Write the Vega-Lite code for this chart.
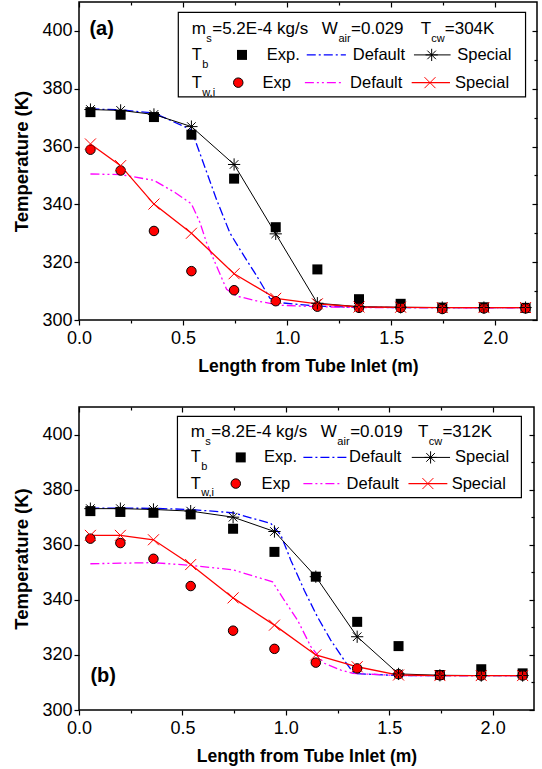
{
  "$schema": "https://vega.github.io/schema/vega-lite/v6.json",
  "padding": {"left": 12, "top": 0, "right": 2, "bottom": 2},
  "background": "white",
  "spacing": 29,
  "datasets": {
    "a": [
      {"s": "Tb_exp", "x": 0.055, "y": 371.9}, {"s": "Tb_exp", "x": 0.2, "y": 371.0}, {"s": "Tb_exp", "x": 0.36, "y": 370.2}, {"s": "Tb_exp", "x": 0.54, "y": 364.1}, {"s": "Tb_exp", "x": 0.745, "y": 348.9}, {"s": "Tb_exp", "x": 0.945, "y": 332.1}, {"s": "Tb_exp", "x": 1.145, "y": 317.5}, {"s": "Tb_exp", "x": 1.345, "y": 307.2}, {"s": "Tb_exp", "x": 1.545, "y": 305.6}, {"s": "Tb_exp", "x": 1.745, "y": 304.3}, {"s": "Tb_exp", "x": 1.945, "y": 304.4}, {"s": "Tb_exp", "x": 2.145, "y": 304.2},
      {"s": "Tb_sp", "x": 0.055, "y": 372.8}, {"s": "Tb_sp", "x": 0.2, "y": 372.5}, {"s": "Tb_sp", "x": 0.36, "y": 371.1}, {"s": "Tb_sp", "x": 0.54, "y": 366.9}, {"s": "Tb_sp", "x": 0.745, "y": 353.8}, {"s": "Tb_sp", "x": 0.945, "y": 329.8}, {"s": "Tb_sp", "x": 1.145, "y": 305.8}, {"s": "Tb_sp", "x": 1.345, "y": 304.6}, {"s": "Tb_sp", "x": 1.545, "y": 304.4}, {"s": "Tb_sp", "x": 1.745, "y": 304.3}, {"s": "Tb_sp", "x": 1.945, "y": 304.3}, {"s": "Tb_sp", "x": 2.145, "y": 304.3},
      {"s": "Tw_exp", "x": 0.055, "y": 358.9}, {"s": "Tw_exp", "x": 0.2, "y": 351.7}, {"s": "Tw_exp", "x": 0.36, "y": 330.8}, {"s": "Tw_exp", "x": 0.54, "y": 316.9}, {"s": "Tw_exp", "x": 0.745, "y": 310.3}, {"s": "Tw_exp", "x": 0.945, "y": 306.5}, {"s": "Tw_exp", "x": 1.145, "y": 304.6}, {"s": "Tw_exp", "x": 1.345, "y": 304.2}, {"s": "Tw_exp", "x": 1.545, "y": 304.2}, {"s": "Tw_exp", "x": 1.745, "y": 303.8}, {"s": "Tw_exp", "x": 1.945, "y": 304.0}, {"s": "Tw_exp", "x": 2.145, "y": 304.0},
      {"s": "Tw_sp", "x": 0.055, "y": 360.9}, {"s": "Tw_sp", "x": 0.2, "y": 353.4}, {"s": "Tw_sp", "x": 0.36, "y": 340.1}, {"s": "Tw_sp", "x": 0.54, "y": 330.0}, {"s": "Tw_sp", "x": 0.745, "y": 316.0}, {"s": "Tw_sp", "x": 0.945, "y": 307.5}, {"s": "Tw_sp", "x": 1.145, "y": 305.6}, {"s": "Tw_sp", "x": 1.345, "y": 304.5}, {"s": "Tw_sp", "x": 1.545, "y": 304.4}, {"s": "Tw_sp", "x": 1.745, "y": 304.3}, {"s": "Tw_sp", "x": 1.945, "y": 304.3}, {"s": "Tw_sp", "x": 2.145, "y": 304.3},
      {"s": "Tb_def", "x": 0.055, "y": 373.0}, {"s": "Tb_def", "x": 0.2, "y": 372.7}, {"s": "Tb_def", "x": 0.36, "y": 371.6}, {"s": "Tb_def", "x": 0.54, "y": 365.8}, {"s": "Tb_def", "x": 0.589, "y": 356.0}, {"s": "Tb_def", "x": 0.661, "y": 341.6}, {"s": "Tb_def", "x": 0.725, "y": 330.1}, {"s": "Tb_def", "x": 0.773, "y": 324.4}, {"s": "Tb_def", "x": 0.854, "y": 315.2}, {"s": "Tb_def", "x": 0.917, "y": 307.5}, {"s": "Tb_def", "x": 0.965, "y": 306.0}, {"s": "Tb_def", "x": 1.145, "y": 304.8}, {"s": "Tb_def", "x": 1.345, "y": 304.4}, {"s": "Tb_def", "x": 1.545, "y": 304.3}, {"s": "Tb_def", "x": 2.145, "y": 304.3},
      {"s": "Tw_def", "x": 0.055, "y": 350.5}, {"s": "Tw_def", "x": 0.2, "y": 350.3}, {"s": "Tw_def", "x": 0.36, "y": 348.3}, {"s": "Tw_def", "x": 0.461, "y": 344.1}, {"s": "Tw_def", "x": 0.54, "y": 340.2}, {"s": "Tw_def", "x": 0.581, "y": 333.7}, {"s": "Tw_def", "x": 0.613, "y": 326.7}, {"s": "Tw_def", "x": 0.661, "y": 318.6}, {"s": "Tw_def", "x": 0.709, "y": 310.6}, {"s": "Tw_def", "x": 0.757, "y": 308.3}, {"s": "Tw_def", "x": 0.854, "y": 306.6}, {"s": "Tw_def", "x": 0.965, "y": 305.1}, {"s": "Tw_def", "x": 1.145, "y": 304.6}, {"s": "Tw_def", "x": 1.345, "y": 304.3}, {"s": "Tw_def", "x": 2.145, "y": 304.2}
    ],
    "b": [
      {"s": "Tb_exp", "x": 0.055, "y": 372.2}, {"s": "Tb_exp", "x": 0.2, "y": 371.9}, {"s": "Tb_exp", "x": 0.36, "y": 371.6}, {"s": "Tb_exp", "x": 0.54, "y": 371.0}, {"s": "Tb_exp", "x": 0.745, "y": 365.8}, {"s": "Tb_exp", "x": 0.945, "y": 357.4}, {"s": "Tb_exp", "x": 1.145, "y": 348.4}, {"s": "Tb_exp", "x": 1.345, "y": 332.0}, {"s": "Tb_exp", "x": 1.545, "y": 323.2}, {"s": "Tb_exp", "x": 1.745, "y": 312.7}, {"s": "Tb_exp", "x": 1.945, "y": 314.8}, {"s": "Tb_exp", "x": 2.145, "y": 313.3},
      {"s": "Tb_sp", "x": 0.055, "y": 373.1}, {"s": "Tb_sp", "x": 0.2, "y": 373.1}, {"s": "Tb_sp", "x": 0.36, "y": 372.8}, {"s": "Tb_sp", "x": 0.54, "y": 372.2}, {"s": "Tb_sp", "x": 0.745, "y": 370.0}, {"s": "Tb_sp", "x": 0.945, "y": 364.8}, {"s": "Tb_sp", "x": 1.145, "y": 348.4}, {"s": "Tb_sp", "x": 1.345, "y": 326.6}, {"s": "Tb_sp", "x": 1.545, "y": 313.1}, {"s": "Tb_sp", "x": 1.745, "y": 312.6}, {"s": "Tb_sp", "x": 1.945, "y": 312.5}, {"s": "Tb_sp", "x": 2.145, "y": 312.5},
      {"s": "Tw_exp", "x": 0.055, "y": 362.2}, {"s": "Tw_exp", "x": 0.2, "y": 360.6}, {"s": "Tw_exp", "x": 0.36, "y": 354.9}, {"s": "Tw_exp", "x": 0.54, "y": 345.0}, {"s": "Tw_exp", "x": 0.745, "y": 328.8}, {"s": "Tw_exp", "x": 0.945, "y": 322.2}, {"s": "Tw_exp", "x": 1.145, "y": 317.2}, {"s": "Tw_exp", "x": 1.345, "y": 315.1}, {"s": "Tw_exp", "x": 1.545, "y": 313.0}, {"s": "Tw_exp", "x": 1.745, "y": 312.6}, {"s": "Tw_exp", "x": 1.945, "y": 312.5}, {"s": "Tw_exp", "x": 2.145, "y": 312.5},
      {"s": "Tw_sp", "x": 0.055, "y": 363.4}, {"s": "Tw_sp", "x": 0.2, "y": 363.4}, {"s": "Tw_sp", "x": 0.36, "y": 361.8}, {"s": "Tw_sp", "x": 0.54, "y": 352.8}, {"s": "Tw_sp", "x": 0.745, "y": 340.7}, {"s": "Tw_sp", "x": 0.945, "y": 330.8}, {"s": "Tw_sp", "x": 1.145, "y": 320.0}, {"s": "Tw_sp", "x": 1.345, "y": 315.7}, {"s": "Tw_sp", "x": 1.545, "y": 312.7}, {"s": "Tw_sp", "x": 1.745, "y": 312.5}, {"s": "Tw_sp", "x": 1.945, "y": 312.5}, {"s": "Tw_sp", "x": 2.145, "y": 312.5},
      {"s": "Tb_def", "x": 0.055, "y": 373.3}, {"s": "Tb_def", "x": 0.2, "y": 373.3}, {"s": "Tb_def", "x": 0.36, "y": 373.2}, {"s": "Tb_def", "x": 0.54, "y": 372.8}, {"s": "Tb_def", "x": 0.745, "y": 371.6}, {"s": "Tb_def", "x": 0.928, "y": 367.7}, {"s": "Tb_def", "x": 0.976, "y": 363.5}, {"s": "Tb_def", "x": 1.024, "y": 354.4}, {"s": "Tb_def", "x": 1.089, "y": 343.5}, {"s": "Tb_def", "x": 1.153, "y": 333.8}, {"s": "Tb_def", "x": 1.217, "y": 325.4}, {"s": "Tb_def", "x": 1.282, "y": 318.1}, {"s": "Tb_def", "x": 1.323, "y": 313.9}, {"s": "Tb_def", "x": 1.345, "y": 313.2}, {"s": "Tb_def", "x": 1.545, "y": 312.5}, {"s": "Tb_def", "x": 2.145, "y": 312.5},
      {"s": "Tw_def", "x": 0.055, "y": 353.1}, {"s": "Tw_def", "x": 0.2, "y": 353.3}, {"s": "Tw_def", "x": 0.36, "y": 353.5}, {"s": "Tw_def", "x": 0.54, "y": 352.5}, {"s": "Tw_def", "x": 0.745, "y": 350.9}, {"s": "Tw_def", "x": 0.936, "y": 346.5}, {"s": "Tw_def", "x": 0.992, "y": 339.9}, {"s": "Tw_def", "x": 1.057, "y": 332.6}, {"s": "Tw_def", "x": 1.121, "y": 323.0}, {"s": "Tw_def", "x": 1.185, "y": 317.0}, {"s": "Tw_def", "x": 1.266, "y": 314.5}, {"s": "Tw_def", "x": 1.323, "y": 313.3}, {"s": "Tw_def", "x": 1.545, "y": 312.5}, {"s": "Tw_def", "x": 2.145, "y": 312.5}
    ],
    "one": [{"k": 1}]
  },
  "vconcat": [
    {
      "width": 458,
      "height": 318,
      "data": {"name": "a"},
      "layer": [
        {
          "layer": [
            {
              "transform": [{"filter": "datum.s === 'Tb_def'"}],
              "mark": {"type": "line", "color": "#0000FF", "strokeWidth": 1.3, "strokeDash": [9, 3, 2, 3]},
              "encoding": {
                "x": {"field": "x", "type": "quantitative", "scale": {"domain": [0, 2.2], "nice": false, "zero": false},
                  "axis": {"values": [0, 0.25, 0.5, 0.75, 1, 1.25, 1.5, 1.75, 2], "title": "Length from Tube Inlet (m)", "titleFontSize": 17.5, "titlePadding": 10, "labelPadding": 4,
                    "labelExpr": "abs(datum.value*2-round(datum.value*2))<0.001 ? format(datum.value,'.1f') : ''",
                    "tickSize": {"condition": {"test": "abs(datum.value*2-round(datum.value*2))<0.001", "value": 5}, "value": 3}}},
                "y": {"field": "y", "type": "quantitative", "scale": {"domain": [300, 410], "nice": false, "zero": false},
                  "axis": {"values": [300, 310, 320, 330, 340, 350, 360, 370, 380, 390, 400], "title": "Temperature (K)", "titleFontSize": 18.5, "titlePadding": 10, "labelPadding": 2,
                    "labelExpr": "datum.value % 20 == 0 ? format(datum.value,'d') : ''",
                    "tickSize": {"condition": {"test": "datum.value % 20 == 0", "value": 5}, "value": 3}}}
              }
            },
            {"transform": [{"filter": "datum.s === 'Tw_def'"}], "mark": {"type": "line", "color": "#FF00FF", "strokeWidth": 1.3, "strokeDash": [9, 3, 2, 3, 2, 3]}, "encoding": {"x": {"field": "x", "type": "quantitative"}, "y": {"field": "y", "type": "quantitative"}}},
            {"transform": [{"filter": "datum.s === 'Tb_sp'"}], "mark": {"type": "line", "color": "#000000", "strokeWidth": 1}, "encoding": {"x": {"field": "x", "type": "quantitative"}, "y": {"field": "y", "type": "quantitative"}}},
            {"transform": [{"filter": "datum.s === 'Tw_sp'"}], "mark": {"type": "line", "color": "#FF0000", "strokeWidth": 1.3}, "encoding": {"x": {"field": "x", "type": "quantitative"}, "y": {"field": "y", "type": "quantitative"}}},
            {"transform": [{"filter": "datum.s === 'Tb_exp'"}], "mark": {"type": "point", "shape": "square", "filled": true, "color": "#000000", "size": 100, "opacity": 1}, "encoding": {"x": {"field": "x", "type": "quantitative"}, "y": {"field": "y", "type": "quantitative"}}},
            {"transform": [{"filter": "datum.s === 'Tw_exp'"}], "mark": {"type": "point", "shape": "circle", "filled": true, "fill": "#FF0000", "stroke": "#000000", "strokeWidth": 1, "size": 90, "opacity": 1}, "encoding": {"x": {"field": "x", "type": "quantitative"}, "y": {"field": "y", "type": "quantitative"}}},
            {"transform": [{"filter": "datum.s === 'Tb_sp'"}], "mark": {"type": "point", "shape": "M0,-1L0,1M-1,0L1,0M-0.7,-0.7L0.7,0.7M-0.7,0.7L0.7,-0.7", "filled": false, "stroke": "#000000", "strokeWidth": 1, "size": 150, "opacity": 1}, "encoding": {"x": {"field": "x", "type": "quantitative"}, "y": {"field": "y", "type": "quantitative"}}},
            {"transform": [{"filter": "datum.s === 'Tw_sp'"}], "mark": {"type": "point", "shape": "M-1,-1L1,1M-1,1L1,-1", "filled": false, "stroke": "#FF0000", "strokeWidth": 1, "size": 121, "opacity": 1}, "encoding": {"x": {"field": "x", "type": "quantitative"}, "y": {"field": "y", "type": "quantitative"}}},
            {"data": {"name": "one"}, "mark": {"type": "rect", "fill": "#ffffff", "stroke": "#000000", "strokeWidth": 1.2}, "encoding": {"x": {"datum": 0.477, "type": "quantitative"}, "x2": {"datum": 2.145}, "y": {"datum": 406.4, "type": "quantitative"}, "y2": {"datum": 377.2}}},
            {"data": {"name": "one"}, "mark": {"type": "text", "text": "(a)", "align": "left", "baseline": "middle", "fontSize": 20, "fontWeight": "bold"}, "encoding": {"x": {"datum": 0.05, "type": "quantitative"}, "y": {"datum": 400.6, "type": "quantitative"}}},
            {"data": {"name": "one"}, "mark": {"type": "text", "text": "m", "align": "left", "baseline": "middle", "fontSize": 17}, "encoding": {"x": {"datum": 0.541, "type": "quantitative"}, "y": {"datum": 400.8, "type": "quantitative"}}},
            {"data": {"name": "one"}, "mark": {"type": "text", "text": "s", "align": "left", "baseline": "middle", "fontSize": 11}, "encoding": {"x": {"datum": 0.611, "type": "quantitative"}, "y": {"datum": 397.1, "type": "quantitative"}}},
            {"data": {"name": "one"}, "mark": {"type": "text", "text": "=5.2E-4 kg/s", "align": "left", "baseline": "middle", "fontSize": 17}, "encoding": {"x": {"datum": 0.64, "type": "quantitative"}, "y": {"datum": 400.8, "type": "quantitative"}}},
            {"data": {"name": "one"}, "mark": {"type": "text", "text": "W", "align": "left", "baseline": "middle", "fontSize": 17}, "encoding": {"x": {"datum": 1.166, "type": "quantitative"}, "y": {"datum": 400.8, "type": "quantitative"}}},
            {"data": {"name": "one"}, "mark": {"type": "text", "text": "air", "align": "left", "baseline": "middle", "fontSize": 11}, "encoding": {"x": {"datum": 1.246, "type": "quantitative"}, "y": {"datum": 397.1, "type": "quantitative"}}},
            {"data": {"name": "one"}, "mark": {"type": "text", "text": "=0.029", "align": "left", "baseline": "middle", "fontSize": 17}, "encoding": {"x": {"datum": 1.307, "type": "quantitative"}, "y": {"datum": 400.8, "type": "quantitative"}}},
            {"data": {"name": "one"}, "mark": {"type": "text", "text": "T", "align": "left", "baseline": "middle", "fontSize": 17}, "encoding": {"x": {"datum": 1.641, "type": "quantitative"}, "y": {"datum": 400.8, "type": "quantitative"}}},
            {"data": {"name": "one"}, "mark": {"type": "text", "text": "cw", "align": "left", "baseline": "middle", "fontSize": 11}, "encoding": {"x": {"datum": 1.692, "type": "quantitative"}, "y": {"datum": 397.1, "type": "quantitative"}}},
            {"data": {"name": "one"}, "mark": {"type": "text", "text": "=304K", "align": "left", "baseline": "middle", "fontSize": 17}, "encoding": {"x": {"datum": 1.757, "type": "quantitative"}, "y": {"datum": 400.8, "type": "quantitative"}}},
            {"data": {"name": "one"}, "mark": {"type": "text", "text": "T", "align": "left", "baseline": "middle", "fontSize": 16.5}, "encoding": {"x": {"datum": 0.541, "type": "quantitative"}, "y": {"datum": 391.7, "type": "quantitative"}}},
            {"data": {"name": "one"}, "mark": {"type": "text", "text": "b", "align": "left", "baseline": "middle", "fontSize": 11}, "encoding": {"x": {"datum": 0.592, "type": "quantitative"}, "y": {"datum": 388.1, "type": "quantitative"}}},
            {"data": {"name": "one"}, "mark": {"type": "point", "shape": "square", "filled": true, "color": "#000000", "size": 100, "opacity": 1}, "encoding": {"x": {"datum": 0.783, "type": "quantitative"}, "y": {"datum": 391.7, "type": "quantitative"}}},
            {"data": {"name": "one"}, "mark": {"type": "text", "text": "Exp.", "align": "left", "baseline": "middle", "fontSize": 16.5}, "encoding": {"x": {"datum": 0.902, "type": "quantitative"}, "y": {"datum": 391.7, "type": "quantitative"}}},
            {"data": {"name": "one"}, "mark": {"type": "rule", "color": "#0000FF", "strokeWidth": 1.3, "strokeDash": [9, 3, 2, 3]}, "encoding": {"x": {"datum": 1.094, "type": "quantitative"}, "x2": {"datum": 1.282}, "y": {"datum": 391.7, "type": "quantitative"}}},
            {"data": {"name": "one"}, "mark": {"type": "text", "text": "Default", "align": "left", "baseline": "middle", "fontSize": 16.5}, "encoding": {"x": {"datum": 1.315, "type": "quantitative"}, "y": {"datum": 391.7, "type": "quantitative"}}},
            {"data": {"name": "one"}, "mark": {"type": "rule", "color": "#000000", "strokeWidth": 1}, "encoding": {"x": {"datum": 1.609, "type": "quantitative"}, "x2": {"datum": 1.785}, "y": {"datum": 391.7, "type": "quantitative"}}},
            {"data": {"name": "one"}, "mark": {"type": "point", "shape": "M0,-1L0,1M-1,0L1,0M-0.7,-0.7L0.7,0.7M-0.7,0.7L0.7,-0.7", "filled": false, "stroke": "#000000", "strokeWidth": 1, "size": 150, "opacity": 1}, "encoding": {"x": {"datum": 1.694, "type": "quantitative"}, "y": {"datum": 391.7, "type": "quantitative"}}},
            {"data": {"name": "one"}, "mark": {"type": "text", "text": "Special", "align": "left", "baseline": "middle", "fontSize": 16.5}, "encoding": {"x": {"datum": 1.817, "type": "quantitative"}, "y": {"datum": 391.7, "type": "quantitative"}}},
            {"data": {"name": "one"}, "mark": {"type": "text", "text": "T", "align": "left", "baseline": "middle", "fontSize": 16.5}, "encoding": {"x": {"datum": 0.541, "type": "quantitative"}, "y": {"datum": 382.1, "type": "quantitative"}}},
            {"data": {"name": "one"}, "mark": {"type": "text", "text": "w,i", "align": "left", "baseline": "middle", "fontSize": 11}, "encoding": {"x": {"datum": 0.592, "type": "quantitative"}, "y": {"datum": 378.6, "type": "quantitative"}}},
            {"data": {"name": "one"}, "mark": {"type": "point", "shape": "circle", "filled": true, "fill": "#FF0000", "stroke": "#000000", "strokeWidth": 1, "size": 90, "opacity": 1}, "encoding": {"x": {"datum": 0.765, "type": "quantitative"}, "y": {"datum": 382.1, "type": "quantitative"}}},
            {"data": {"name": "one"}, "mark": {"type": "text", "text": "Exp", "align": "left", "baseline": "middle", "fontSize": 16.5}, "encoding": {"x": {"datum": 0.882, "type": "quantitative"}, "y": {"datum": 382.1, "type": "quantitative"}}},
            {"data": {"name": "one"}, "mark": {"type": "rule", "color": "#FF00FF", "strokeWidth": 1.3, "strokeDash": [9, 3, 2, 3, 2, 3]}, "encoding": {"x": {"datum": 1.085, "type": "quantitative"}, "x2": {"datum": 1.268}, "y": {"datum": 382.1, "type": "quantitative"}}},
            {"data": {"name": "one"}, "mark": {"type": "text", "text": "Default", "align": "left", "baseline": "middle", "fontSize": 16.5}, "encoding": {"x": {"datum": 1.302, "type": "quantitative"}, "y": {"datum": 382.1, "type": "quantitative"}}},
            {"data": {"name": "one"}, "mark": {"type": "rule", "color": "#FF0000", "strokeWidth": 1.3}, "encoding": {"x": {"datum": 1.598, "type": "quantitative"}, "x2": {"datum": 1.782}, "y": {"datum": 382.1, "type": "quantitative"}}},
            {"data": {"name": "one"}, "mark": {"type": "point", "shape": "M-1,-1L1,1M-1,1L1,-1", "filled": false, "stroke": "#FF0000", "strokeWidth": 1, "size": 121, "opacity": 1}, "encoding": {"x": {"datum": 1.686, "type": "quantitative"}, "y": {"datum": 382.1, "type": "quantitative"}}},
            {"data": {"name": "one"}, "mark": {"type": "text", "text": "Special", "align": "left", "baseline": "middle", "fontSize": 16.5}, "encoding": {"x": {"datum": 1.806, "type": "quantitative"}, "y": {"datum": 382.1, "type": "quantitative"}}}
          ]
        },
        {
          "mark": {"type": "point", "opacity": 0},
          "encoding": {
            "x": {"field": "x", "type": "quantitative", "scale": {"domain": [0, 2.2], "nice": false, "zero": false},
              "axis": {"orient": "top", "values": [0, 0.25, 0.5, 0.75, 1, 1.25, 1.5, 1.75, 2], "labels": false, "title": null,
                "tickSize": {"condition": {"test": "abs(datum.value*2-round(datum.value*2))<0.001", "value": -5}, "value": -3}}},
            "y": {"field": "y", "type": "quantitative", "scale": {"domain": [300, 410], "nice": false, "zero": false},
              "axis": {"orient": "right", "values": [300, 310, 320, 330, 340, 350, 360, 370, 380, 390, 400], "labels": false, "title": null,
                "tickSize": {"condition": {"test": "datum.value % 20 == 0", "value": -5}, "value": -3}}}
          }
        }
      ],
      "resolve": {"axis": {"x": "independent", "y": "independent"}}
    },
    {
      "width": 455,
      "height": 303,
      "data": {"name": "b"},
      "layer": [
        {
          "layer": [
            {
              "transform": [{"filter": "datum.s === 'Tb_def'"}],
              "mark": {"type": "line", "color": "#0000FF", "strokeWidth": 1.3, "strokeDash": [9, 3, 2, 3]},
              "encoding": {
                "x": {"field": "x", "type": "quantitative", "scale": {"domain": [0, 2.2], "nice": false, "zero": false},
                  "axis": {"values": [0, 0.25, 0.5, 0.75, 1, 1.25, 1.5, 1.75, 2], "title": "Length from Tube Inlet (m)", "titleFontSize": 17.5, "titlePadding": 10, "labelPadding": 4,
                    "labelExpr": "abs(datum.value*2-round(datum.value*2))<0.001 ? format(datum.value,'.1f') : ''",
                    "tickSize": {"condition": {"test": "abs(datum.value*2-round(datum.value*2))<0.001", "value": 5}, "value": 3}}},
                "y": {"field": "y", "type": "quantitative", "scale": {"domain": [300, 410], "nice": false, "zero": false},
                  "axis": {"values": [300, 310, 320, 330, 340, 350, 360, 370, 380, 390, 400], "title": "Temperature (K)", "titleFontSize": 18.5, "titlePadding": 10, "labelPadding": 2,
                    "labelExpr": "datum.value % 20 == 0 ? format(datum.value,'d') : ''",
                    "tickSize": {"condition": {"test": "datum.value % 20 == 0", "value": 5}, "value": 3}}}
              }
            },
            {"transform": [{"filter": "datum.s === 'Tw_def'"}], "mark": {"type": "line", "color": "#FF00FF", "strokeWidth": 1.3, "strokeDash": [9, 3, 2, 3, 2, 3]}, "encoding": {"x": {"field": "x", "type": "quantitative"}, "y": {"field": "y", "type": "quantitative"}}},
            {"transform": [{"filter": "datum.s === 'Tb_sp'"}], "mark": {"type": "line", "color": "#000000", "strokeWidth": 1}, "encoding": {"x": {"field": "x", "type": "quantitative"}, "y": {"field": "y", "type": "quantitative"}}},
            {"transform": [{"filter": "datum.s === 'Tw_sp'"}], "mark": {"type": "line", "color": "#FF0000", "strokeWidth": 1.3}, "encoding": {"x": {"field": "x", "type": "quantitative"}, "y": {"field": "y", "type": "quantitative"}}},
            {"transform": [{"filter": "datum.s === 'Tb_exp'"}], "mark": {"type": "point", "shape": "square", "filled": true, "color": "#000000", "size": 100, "opacity": 1}, "encoding": {"x": {"field": "x", "type": "quantitative"}, "y": {"field": "y", "type": "quantitative"}}},
            {"transform": [{"filter": "datum.s === 'Tw_exp'"}], "mark": {"type": "point", "shape": "circle", "filled": true, "fill": "#FF0000", "stroke": "#000000", "strokeWidth": 1, "size": 90, "opacity": 1}, "encoding": {"x": {"field": "x", "type": "quantitative"}, "y": {"field": "y", "type": "quantitative"}}},
            {"transform": [{"filter": "datum.s === 'Tb_sp'"}], "mark": {"type": "point", "shape": "M0,-1L0,1M-1,0L1,0M-0.7,-0.7L0.7,0.7M-0.7,0.7L0.7,-0.7", "filled": false, "stroke": "#000000", "strokeWidth": 1, "size": 150, "opacity": 1}, "encoding": {"x": {"field": "x", "type": "quantitative"}, "y": {"field": "y", "type": "quantitative"}}},
            {"transform": [{"filter": "datum.s === 'Tw_sp'"}], "mark": {"type": "point", "shape": "M-1,-1L1,1M-1,1L1,-1", "filled": false, "stroke": "#FF0000", "strokeWidth": 1, "size": 121, "opacity": 1}, "encoding": {"x": {"field": "x", "type": "quantitative"}, "y": {"field": "y", "type": "quantitative"}}},
            {"data": {"name": "one"}, "mark": {"type": "rect", "fill": "#ffffff", "stroke": "#000000", "strokeWidth": 1.2}, "encoding": {"x": {"datum": 0.476, "type": "quantitative"}, "x2": {"datum": 2.139}, "y": {"datum": 406.6, "type": "quantitative"}, "y2": {"datum": 377.1}}},
            {"data": {"name": "one"}, "mark": {"type": "text", "text": "(b)", "align": "left", "baseline": "middle", "fontSize": 20, "fontWeight": "bold"}, "encoding": {"x": {"datum": 0.055, "type": "quantitative"}, "y": {"datum": 312.2, "type": "quantitative"}}},
            {"data": {"name": "one"}, "mark": {"type": "text", "text": "m", "align": "left", "baseline": "middle", "fontSize": 17}, "encoding": {"x": {"datum": 0.54, "type": "quantitative"}, "y": {"datum": 400.8, "type": "quantitative"}}},
            {"data": {"name": "one"}, "mark": {"type": "text", "text": "s", "align": "left", "baseline": "middle", "fontSize": 11}, "encoding": {"x": {"datum": 0.611, "type": "quantitative"}, "y": {"datum": 397.4, "type": "quantitative"}}},
            {"data": {"name": "one"}, "mark": {"type": "text", "text": "=8.2E-4 kg/s", "align": "left", "baseline": "middle", "fontSize": 17}, "encoding": {"x": {"datum": 0.64, "type": "quantitative"}, "y": {"datum": 400.8, "type": "quantitative"}}},
            {"data": {"name": "one"}, "mark": {"type": "text", "text": "W", "align": "left", "baseline": "middle", "fontSize": 17}, "encoding": {"x": {"datum": 1.169, "type": "quantitative"}, "y": {"datum": 400.8, "type": "quantitative"}}},
            {"data": {"name": "one"}, "mark": {"type": "text", "text": "air", "align": "left", "baseline": "middle", "fontSize": 11}, "encoding": {"x": {"datum": 1.249, "type": "quantitative"}, "y": {"datum": 397.4, "type": "quantitative"}}},
            {"data": {"name": "one"}, "mark": {"type": "text", "text": "=0.019", "align": "left", "baseline": "middle", "fontSize": 17}, "encoding": {"x": {"datum": 1.311, "type": "quantitative"}, "y": {"datum": 400.8, "type": "quantitative"}}},
            {"data": {"name": "one"}, "mark": {"type": "text", "text": "T", "align": "left", "baseline": "middle", "fontSize": 17}, "encoding": {"x": {"datum": 1.639, "type": "quantitative"}, "y": {"datum": 400.8, "type": "quantitative"}}},
            {"data": {"name": "one"}, "mark": {"type": "text", "text": "cw", "align": "left", "baseline": "middle", "fontSize": 11}, "encoding": {"x": {"datum": 1.691, "type": "quantitative"}, "y": {"datum": 397.4, "type": "quantitative"}}},
            {"data": {"name": "one"}, "mark": {"type": "text", "text": "=312K", "align": "left", "baseline": "middle", "fontSize": 17}, "encoding": {"x": {"datum": 1.757, "type": "quantitative"}, "y": {"datum": 400.8, "type": "quantitative"}}},
            {"data": {"name": "one"}, "mark": {"type": "text", "text": "T", "align": "left", "baseline": "middle", "fontSize": 16.5}, "encoding": {"x": {"datum": 0.54, "type": "quantitative"}, "y": {"datum": 391.7, "type": "quantitative"}}},
            {"data": {"name": "one"}, "mark": {"type": "text", "text": "b", "align": "left", "baseline": "middle", "fontSize": 11}, "encoding": {"x": {"datum": 0.591, "type": "quantitative"}, "y": {"datum": 388.3, "type": "quantitative"}}},
            {"data": {"name": "one"}, "mark": {"type": "point", "shape": "square", "filled": true, "color": "#000000", "size": 100, "opacity": 1}, "encoding": {"x": {"datum": 0.782, "type": "quantitative"}, "y": {"datum": 391.7, "type": "quantitative"}}},
            {"data": {"name": "one"}, "mark": {"type": "text", "text": "Exp.", "align": "left", "baseline": "middle", "fontSize": 16.5}, "encoding": {"x": {"datum": 0.895, "type": "quantitative"}, "y": {"datum": 391.7, "type": "quantitative"}}},
            {"data": {"name": "one"}, "mark": {"type": "rule", "color": "#0000FF", "strokeWidth": 1.3, "strokeDash": [9, 3, 2, 3]}, "encoding": {"x": {"datum": 1.085, "type": "quantitative"}, "x2": {"datum": 1.298}, "y": {"datum": 391.7, "type": "quantitative"}}},
            {"data": {"name": "one"}, "mark": {"type": "text", "text": "Default", "align": "left", "baseline": "middle", "fontSize": 16.5}, "encoding": {"x": {"datum": 1.306, "type": "quantitative"}, "y": {"datum": 391.7, "type": "quantitative"}}},
            {"data": {"name": "one"}, "mark": {"type": "rule", "color": "#000000", "strokeWidth": 1}, "encoding": {"x": {"datum": 1.609, "type": "quantitative"}, "x2": {"datum": 1.794}, "y": {"datum": 391.7, "type": "quantitative"}}},
            {"data": {"name": "one"}, "mark": {"type": "point", "shape": "M0,-1L0,1M-1,0L1,0M-0.7,-0.7L0.7,0.7M-0.7,0.7L0.7,-0.7", "filled": false, "stroke": "#000000", "strokeWidth": 1, "size": 150, "opacity": 1}, "encoding": {"x": {"datum": 1.70, "type": "quantitative"}, "y": {"datum": 391.7, "type": "quantitative"}}},
            {"data": {"name": "one"}, "mark": {"type": "text", "text": "Special", "align": "left", "baseline": "middle", "fontSize": 16.5}, "encoding": {"x": {"datum": 1.818, "type": "quantitative"}, "y": {"datum": 391.7, "type": "quantitative"}}},
            {"data": {"name": "one"}, "mark": {"type": "text", "text": "T", "align": "left", "baseline": "middle", "fontSize": 16.5}, "encoding": {"x": {"datum": 0.54, "type": "quantitative"}, "y": {"datum": 382.2, "type": "quantitative"}}},
            {"data": {"name": "one"}, "mark": {"type": "text", "text": "w,i", "align": "left", "baseline": "middle", "fontSize": 11}, "encoding": {"x": {"datum": 0.591, "type": "quantitative"}, "y": {"datum": 378.8, "type": "quantitative"}}},
            {"data": {"name": "one"}, "mark": {"type": "point", "shape": "circle", "filled": true, "fill": "#FF0000", "stroke": "#000000", "strokeWidth": 1, "size": 90, "opacity": 1}, "encoding": {"x": {"datum": 0.758, "type": "quantitative"}, "y": {"datum": 382.2, "type": "quantitative"}}},
            {"data": {"name": "one"}, "mark": {"type": "text", "text": "Exp", "align": "left", "baseline": "middle", "fontSize": 16.5}, "encoding": {"x": {"datum": 0.883, "type": "quantitative"}, "y": {"datum": 382.2, "type": "quantitative"}}},
            {"data": {"name": "one"}, "mark": {"type": "rule", "color": "#FF00FF", "strokeWidth": 1.3, "strokeDash": [9, 3, 2, 3, 2, 3]}, "encoding": {"x": {"datum": 1.085, "type": "quantitative"}, "x2": {"datum": 1.274}, "y": {"datum": 382.2, "type": "quantitative"}}},
            {"data": {"name": "one"}, "mark": {"type": "text", "text": "Default", "align": "left", "baseline": "middle", "fontSize": 16.5}, "encoding": {"x": {"datum": 1.294, "type": "quantitative"}, "y": {"datum": 382.2, "type": "quantitative"}}},
            {"data": {"name": "one"}, "mark": {"type": "rule", "color": "#FF0000", "strokeWidth": 1.3}, "encoding": {"x": {"datum": 1.593, "type": "quantitative"}, "x2": {"datum": 1.781}, "y": {"datum": 382.2, "type": "quantitative"}}},
            {"data": {"name": "one"}, "mark": {"type": "point", "shape": "M-1,-1L1,1M-1,1L1,-1", "filled": false, "stroke": "#FF0000", "strokeWidth": 1, "size": 121, "opacity": 1}, "encoding": {"x": {"datum": 1.687, "type": "quantitative"}, "y": {"datum": 382.2, "type": "quantitative"}}},
            {"data": {"name": "one"}, "mark": {"type": "text", "text": "Special", "align": "left", "baseline": "middle", "fontSize": 16.5}, "encoding": {"x": {"datum": 1.802, "type": "quantitative"}, "y": {"datum": 382.2, "type": "quantitative"}}}
          ]
        },
        {
          "mark": {"type": "point", "opacity": 0},
          "encoding": {
            "x": {"field": "x", "type": "quantitative", "scale": {"domain": [0, 2.2], "nice": false, "zero": false},
              "axis": {"orient": "top", "values": [0, 0.25, 0.5, 0.75, 1, 1.25, 1.5, 1.75, 2], "labels": false, "title": null,
                "tickSize": {"condition": {"test": "abs(datum.value*2-round(datum.value*2))<0.001", "value": -5}, "value": -3}}},
            "y": {"field": "y", "type": "quantitative", "scale": {"domain": [300, 410], "nice": false, "zero": false},
              "axis": {"orient": "right", "values": [300, 310, 320, 330, 340, 350, 360, 370, 380, 390, 400], "labels": false, "title": null,
                "tickSize": {"condition": {"test": "datum.value % 20 == 0", "value": -5}, "value": -3}}}
          }
        }
      ],
      "resolve": {"axis": {"x": "independent", "y": "independent"}}
    }
  ],
  "config": {
    "font": "Liberation Sans",
    "view": {"stroke": "#000000", "strokeWidth": 1.5},
    "axis": {"grid": false, "domain": false, "tickColor": "#000000", "tickWidth": 1.2, "labelColor": "#000000", "titleColor": "#000000", "labelFontSize": 18, "labelFont": "Liberation Sans", "titleFont": "Liberation Sans", "titleFontWeight": "bold", "labelFlush": false, "labelOverlap": false, "labelBound": false},
    "text": {"font": "Liberation Sans", "color": "#000000"}
  }
}
